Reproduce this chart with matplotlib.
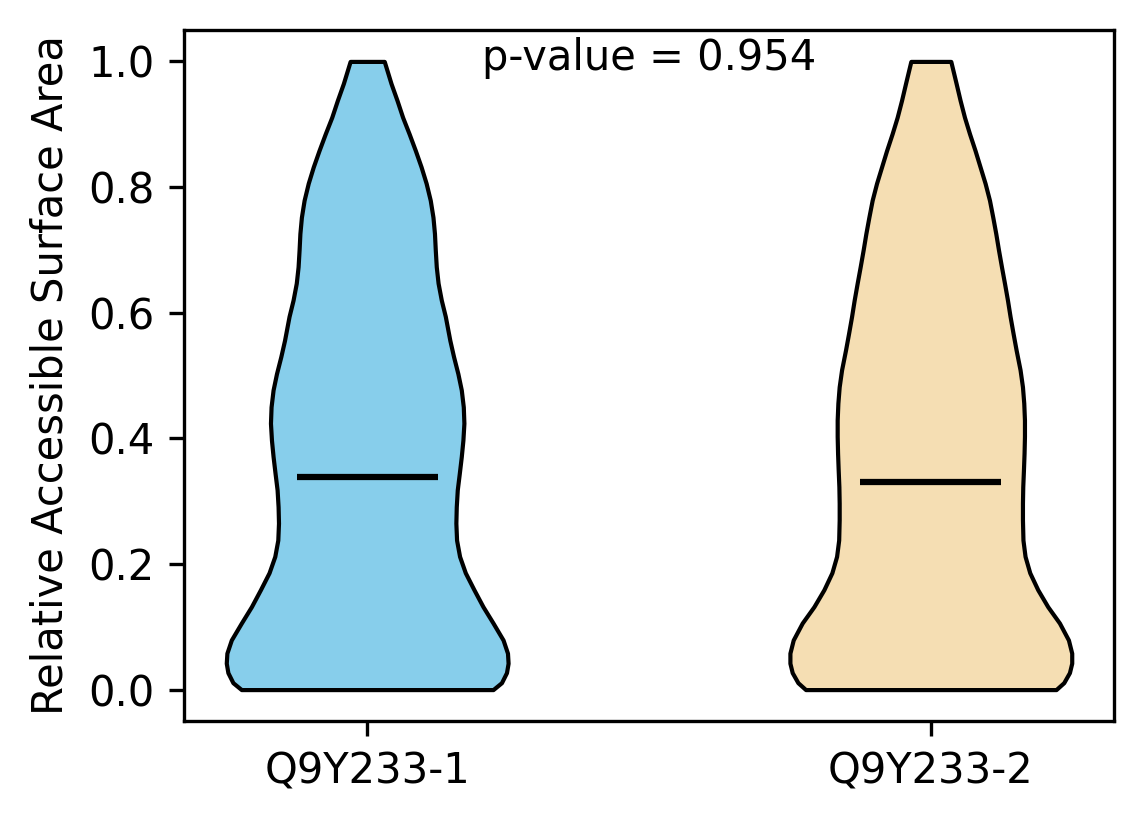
import numpy as np
import matplotlib
matplotlib.use("Agg")
import matplotlib.pyplot as plt

# Group labels and means
labels = ["Q9Y233-1", "Q9Y233-2"]
means = [0.339, 0.330]
p_value = 0.954

# Density profiles (relative KDE half-widths)
y1 = [0.000, 0.011, 0.027, 0.042, 0.058, 0.079, 0.106, 0.132, 0.159, 0.186,
      0.212, 0.238, 0.265, 0.291, 0.318, 0.344, 0.371, 0.397, 0.424, 0.450,
      0.477, 0.503, 0.530, 0.556, 0.594, 0.620, 0.647, 0.673, 0.700, 0.726,
      0.752, 0.779, 0.806, 0.832, 0.858, 0.885, 0.911, 0.938, 0.965, 1.000]
d1 = [125.3, 133.7, 138.7, 140.3, 139.7, 135.3, 125.3, 115.3, 106.3, 97.7,
      92.0, 89.0, 88.3, 88.7, 89.7, 91.7, 93.7, 95.3, 96.3, 95.7,
      93.7, 90.3, 86.0, 82.3, 77.8, 73.8, 70.6, 68.8, 67.8, 67.0,
      65.5, 62.8, 58.7, 53.7, 48.0, 41.7, 35.3, 29.7, 23.7, 17.0]

y2 = [0.000, 0.011, 0.027, 0.042, 0.058, 0.079, 0.106, 0.132, 0.159, 0.186,
      0.212, 0.238, 0.270, 0.297, 0.323, 0.350, 0.376, 0.403, 0.429, 0.456,
      0.482, 0.509, 0.541, 0.567, 0.594, 0.620, 0.647, 0.673, 0.700, 0.726,
      0.752, 0.779, 0.806, 0.832, 0.858, 0.885, 0.911, 0.938, 0.965, 1.000]
d2 = [125.3, 133.0, 138.7, 141.0, 141.0, 137.7, 128.7, 117.0, 107.0, 99.0,
      94.3, 92.2, 91.7, 91.7, 92.0, 92.7, 93.3, 93.7, 93.7, 93.0,
      91.7, 89.3, 85.3, 82.3, 79.3, 76.7, 73.7, 70.7, 67.7, 65.0,
      62.0, 58.7, 54.3, 49.3, 44.3, 38.7, 33.7, 29.3, 25.3, 20.0]

colors = ["skyblue", "wheat"]

fig = plt.figure(figsize=(1144 / 300, 824 / 300), dpi=300)
ax = fig.add_axes([184 / 1144, 1 - 721 / 824, (1114 - 184) / 1144, (721 - 30) / 824])

vpstats = []
for ys, ds, m in zip([y1, y2], [d1, d2], means):
    ys = np.asarray(ys, float)
    vpstats.append(dict(coords=ys, vals=np.asarray(ds, float), mean=m,
                        median=m, min=ys.min(), max=ys.max()))

parts = ax.violin(vpstats, positions=[1, 2], widths=0.5, showmeans=True,
                  showextrema=False, showmedians=False)
for body, c in zip(parts["bodies"], colors):
    body.set_facecolor(c)
    body.set_edgecolor("black")
    body.set_linewidth(1.0)
    body.set_alpha(1)
    body.set_joinstyle("round")
parts["cmeans"].set_color("black")
parts["cmeans"].set_linewidth(1.5)

ax.set_xticks([1, 2])
ax.set_xticklabels(labels)
ax.set_ylabel("Relative Accessible Surface Area")
ax.text(0.5, 0.99, f"p-value = {p_value}", transform=ax.transAxes,
        ha="center", va="top", fontsize=10)

fig.savefig("out.png", dpi=300)
